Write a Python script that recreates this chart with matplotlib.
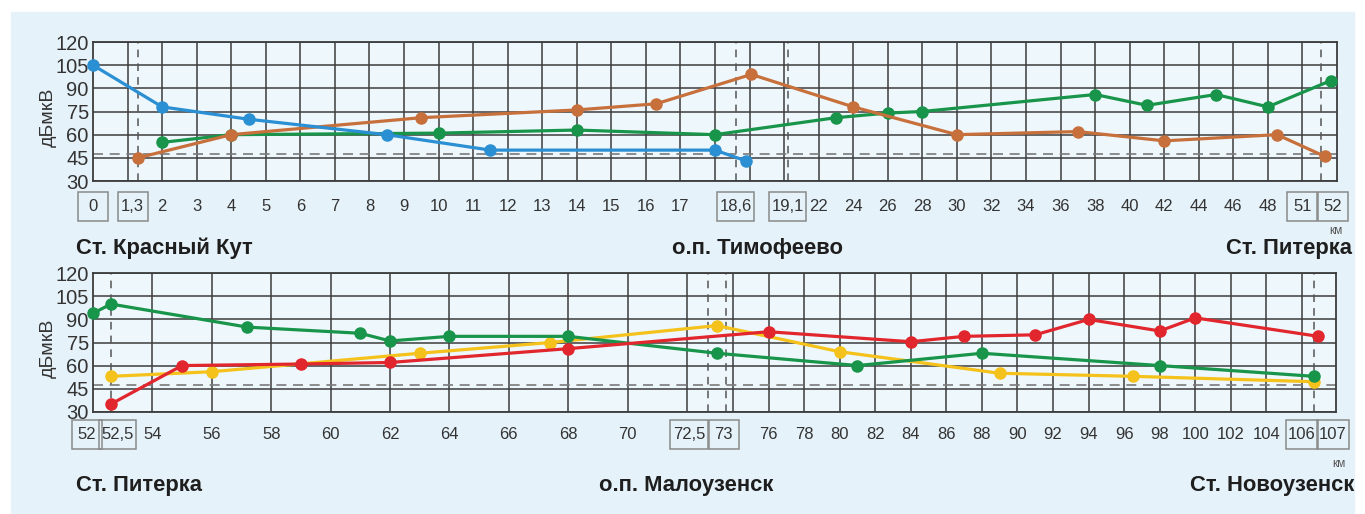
import numpy as np
import matplotlib.pyplot as plt
from matplotlib.patches import Rectangle
from matplotlib.path import Path

W, H = 1365, 514

# ---- top panel: Ст. Красный Кут - Ст. Питерка (km, дБмкВ)
top_blue_km = [0, 2, 4.5, 8.5, 11.5, 18, 18.7]
top_blue_db = [105, 78, 70, 60, 50, 50, 43]
top_orange_km = [1.3, 4, 9.5, 14, 16.3, 18.75, 24, 30, 37, 42, 48.8, 52.1]
top_orange_db = [45, 60, 71, 76, 80, 99, 78, 60, 62, 56, 60, 46]
top_green_km = [2, 4, 10, 14, 18, 23, 26, 28, 38, 41, 45, 48, 52.3]
top_green_db = [55, 60, 61, 63, 60, 71, 74, 75, 86, 79, 86, 78, 95]

top_labels = ['0', '1,3'] + [str(k) for k in range(2, 18)] + ['18,6', '19,1'] + \
             [str(k) for k in range(22, 49, 2)] + ['51', '52']
top_label_km = [0, 1.15] + list(range(2, 18)) + [18.6, 19.1] + list(range(22, 49, 2)) + [51, 52.37]
top_boxed = ['0', '1,3', '18,6', '19,1', '51', '52']
top_marks_km = [1.3, 18.6, 19.1, 52]

# ---- bottom panel: Ст. Питерка - Ст. Новоузенск
bot_green_km = [52, 52.5, 57.2, 61, 62, 64, 68, 72.75, 81, 88, 98, 107]
bot_green_db = [94, 100, 85, 81, 76, 79, 79, 68, 60, 68, 60, 53]
bot_yellow_km = [52.5, 56, 63, 67.4, 72.75, 80, 89, 96.5, 107]
bot_yellow_db = [53, 56, 68, 75, 86, 69, 55, 53, 49.5]
bot_red_km = [52.5, 55, 59, 62, 68, 76, 84, 87, 91, 94, 98, 100, 107.2]
bot_red_db = [35, 60, 61, 62, 71, 82, 75.5, 79, 80, 90, 82.5, 91, 79]

bot_labels = ['52', '52,5'] + [str(k) for k in range(54, 71, 2)] + ['72,5', '73'] + \
             [str(k) for k in range(76, 105, 2)] + ['106', '107']
bot_label_km = [51.8, 52.74] + list(range(54, 71, 2)) + [72.05, 72.94] + list(range(76, 105, 2)) + [106, 107.86]
bot_boxed = ['52', '52,5', '72,5', '73', '106', '107']
bot_marks_km = [52.5, 72.5, 73, 107]

threshold = 47.5

# schematic (non linear) km axis, knots
top_knots_km = [0, 18.6, 19.1, 22, 48, 51, 52, 52.5]
top_knots_pos = np.array([0, 18.6, 20.1, 21, 34, 35, 35.55, 36]) / 36
bot_knots_km = [50, 52, 52.5, 54, 72, 72.5, 73, 74, 106, 107, 108]
bot_knots_pos = np.array([-59.4, 0, 18, 59.4, 594, 615, 633, 640, 1209, 1221, 1243]) / 1243

BG = '#e6f2f9'
BLUE, ORANGE, GREEN = '#2b8fd3', '#c7703c', '#18954a'
RED, YELLOW = '#e1262d', '#f4c21b'
FONT = ['Liberation Sans Narrow', 'Liberation Sans', 'DejaVu Sans']


def km_box(x0, y0, width, height, mutation_size):
    # box round a km label: fixed vertical margin, at least ~30 px wide
    w = max(width + 0.3 * mutation_size, 30)
    h = height + 14
    cx, cy = x0 + width / 2, y0 + height / 2
    return Path.unit_rectangle().transformed(
        plt.matplotlib.transforms.Affine2D().scale(w, h).translate(cx - w / 2, cy - h / 2))


fig = plt.figure(figsize=(W / 100, H / 100), dpi=100, facecolor='white')
fig.patches.append(Rectangle((11 / W, 0), (1354 - 11) / W, (H - 12) / H,
                             transform=fig.transFigure, color=BG, zorder=-10))


def setup(ax, knots_km, knots_pos, xmin, xmax, grid_km, labels, label_km, boxed, marks, label_y):
    fwd = lambda x: np.interp(x, knots_km, knots_pos)
    inv = lambda p: np.interp(p, knots_pos, knots_km)
    ax.set_xscale('function', functions=(fwd, inv))
    ax.set_xlim(xmin, xmax)
    ax.set_ylim(30, 120)
    ax.set_facecolor('#eef7fb')
    ax.set_yticks(range(30, 121, 15))
    ax.set_yticklabels([str(v) for v in range(30, 121, 15)], family=FONT, fontsize=14.5, color='#333333')
    ax.set_xticks([])
    ax.set_xticks(grid_km, minor=True)
    ax.tick_params(which='both', length=0, pad=3)
    ax.tick_params(axis='x', which='both', labelbottom=False)
    ax.grid(axis='y', which='major', color='#3c3c3c', lw=1.1)
    ax.grid(axis='x', which='minor', color='#3c3c3c', lw=1.1)
    ax.set_axisbelow(True)
    for s in ax.spines.values():
        s.set_color('#3c3c3c')
        s.set_linewidth(1.3)
    ax.axhline(threshold, color='#7a7a7a', lw=1.2, ls=(0, (6, 4)), zorder=1)
    for m in marks:
        ax.axvline(m, color='#555555', lw=1.1, ls=(0, (5, 4)), zorder=1)
    tr = ax.get_xaxis_transform()
    for lab, k in zip(labels, label_km):
        t = ax.text(k, label_y, lab, transform=tr, ha='center', va='center', family=FONT,
                    fontsize=12, color='#333333', clip_on=False)
        if lab in boxed:
            t.set_bbox(dict(boxstyle=km_box, fc='none', ec='#8a8a8a', lw=1.1))
    ax.set_ylabel('дБмкВ', family=FONT, fontsize=14, color='#333333')
    ax.yaxis.set_label_coords(-0.029, 0.46)


def series(ax, km, db, color):
    ax.plot(km, db, color=color, lw=2.3, marker='o', ms=8, clip_on=False, zorder=3)


ax_top = fig.add_axes([93 / W, 1 - 181 / H, 1244 / W, 139 / H])
top_grid = np.interp(np.arange(1, 36) / 36, top_knots_pos, top_knots_km)
setup(ax_top, top_knots_km, top_knots_pos, 0, 52.5, top_grid,
      top_labels, top_label_km, top_boxed, top_marks_km, -0.18)
series(ax_top, top_green_km, top_green_db, GREEN)
series(ax_top, top_orange_km, top_orange_db, ORANGE)
series(ax_top, top_blue_km, top_blue_db, BLUE)

ax_bot = fig.add_axes([93 / W, 1 - 411.7 / H, 1243 / W, 138.4 / H])
bot_grid = np.arange(54, 107, 2)
setup(ax_bot, bot_knots_km, bot_knots_pos, 52, 108, bot_grid,
      bot_labels, bot_label_km, bot_boxed, bot_marks_km, -0.165)
series(ax_bot, bot_yellow_km, bot_yellow_db, YELLOW)
series(ax_bot, bot_green_km, bot_green_db, GREEN)
series(ax_bot, bot_red_km, bot_red_db, RED)


# station names
def station(x, y, s, ha):
    fig.text(x / W, 1 - y / H, s, ha=ha, va='center', fontsize=15.8, fontweight='bold',
             family=['Liberation Sans', 'DejaVu Sans'], color='#1e1e1e')


station(76, 248, 'Ст. Красный Кут', 'left')
station(758, 248, 'о.п. Тимофеево', 'center')
station(1352, 248, 'Ст. Питерка', 'right')
station(76, 486, 'Ст. Питерка', 'left')
station(686, 486, 'о.п. Малоузенск', 'center')
station(1354, 486, 'Ст. Новоузенск', 'right')
for x, y in [(1336, 231), (1339, 464)]:
    fig.text(x / W, 1 - y / H, 'км', ha='center', va='center', fontsize=8.5,
             family=FONT, color='#555555')

fig.savefig('out.png', dpi=100, facecolor='white')
